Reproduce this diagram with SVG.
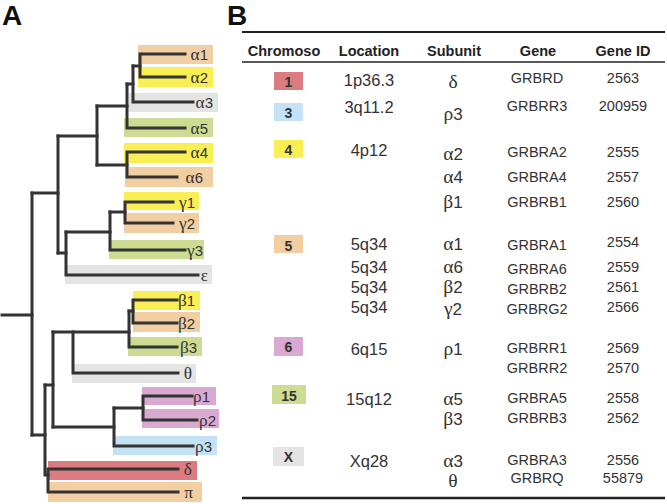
<svg xmlns="http://www.w3.org/2000/svg" width="667" height="504" viewBox="0 0 667 504">
<style>
.panel{font-family:"Liberation Sans",Arial,sans-serif;font-weight:bold;font-size:28px;fill:#111}
.br{fill:none;stroke:#333;stroke-width:3;stroke-linecap:square;stroke-linejoin:miter}
.lbl{font-family:"Liberation Sans",Arial,sans-serif;font-size:15px;fill:#333;text-anchor:end}
.gk{font-family:"Liberation Serif","Times New Roman",serif;font-size:1.15em}
.tan{fill:#F2CFA2}.yel{fill:#F9EF55}.gry{fill:#E4E4E4}.grn{fill:#CDDC92}.pnk{fill:#D9A9D2}.blu{fill:#C4E2F5}.red{fill:#DB7C80}
.hd{font-family:"Liberation Sans",Arial,sans-serif;font-weight:bold;font-size:14.5px;fill:#222;text-anchor:middle}
.rule{stroke:#222}
.chip{font-family:"Liberation Sans",Arial,sans-serif;font-weight:bold;font-size:14px;fill:#333;text-anchor:middle}
.loc{font-family:"Liberation Sans",Arial,sans-serif;font-size:16.5px;fill:#333;text-anchor:middle}
.sub{font-family:"Liberation Sans",Arial,sans-serif;font-size:17px;fill:#333;text-anchor:middle}
.gene{font-family:"Liberation Sans",Arial,sans-serif;font-size:14.5px;fill:#333;text-anchor:middle}
</style>
<text class="panel" x="2" y="25">A</text>
<text class="panel" x="227" y="25">B</text>

<g id="leaf-a1"><rect class="tan" x="138" y="45" width="75" height="19"/><text class="lbl" x="208" y="60"><tspan class="gk">α</tspan>1</text></g>
<g id="leaf-a2"><rect class="yel" x="138" y="67" width="75" height="20"/><text class="lbl" x="208" y="83"><tspan class="gk">α</tspan>2</text></g>
<g id="leaf-a3"><rect class="gry" x="129" y="93" width="89" height="19"/><text class="lbl" x="213" y="108"><tspan class="gk">α</tspan>3</text></g>
<g id="leaf-a5"><rect class="grn" x="124" y="118" width="89" height="19"/><text class="lbl" x="208" y="134"><tspan class="gk">α</tspan>5</text></g>
<g id="leaf-a4"><rect class="yel" x="124" y="143" width="89" height="20"/><text class="lbl" x="208" y="158"><tspan class="gk">α</tspan>4</text></g>
<g id="leaf-a6"><rect class="tan" x="125" y="167" width="88" height="20"/><text class="lbl" x="203" y="183"><tspan class="gk">α</tspan>6</text></g>
<g id="leaf-g1"><rect class="yel" x="124" y="192" width="75" height="18"/><text class="lbl" x="195" y="208"><tspan class="gk">γ</tspan>1</text></g>
<g id="leaf-g2"><rect class="tan" x="124" y="213" width="75" height="20"/><text class="lbl" x="195" y="229"><tspan class="gk">γ</tspan>2</text></g>
<g id="leaf-g3"><rect class="grn" x="109" y="240" width="95" height="19"/><text class="lbl" x="203" y="256"><tspan class="gk">γ</tspan>3</text></g>
<g id="leaf-e"><rect class="gry" x="65" y="265" width="147" height="19"/><text class="lbl" x="208" y="281"><tspan class="gk">ε</tspan></text></g>
<g id="leaf-b1"><rect class="yel" x="133" y="291" width="67" height="19"/><text class="lbl" x="195" y="306"><tspan class="gk">β</tspan>1</text></g>
<g id="leaf-b2"><rect class="tan" x="133" y="312" width="67" height="20"/><text class="lbl" x="195" y="329"><tspan class="gk">β</tspan>2</text></g>
<g id="leaf-b3"><rect class="grn" x="128" y="337" width="74" height="19"/><text class="lbl" x="197" y="353"><tspan class="gk">β</tspan>3</text></g>
<g id="leaf-th"><rect class="gry" x="72" y="364" width="124" height="19"/><text class="lbl" x="192" y="379"><tspan class="gk">θ</tspan></text></g>
<g id="leaf-r1"><rect class="pnk" x="142" y="387" width="74" height="18"/><text class="lbl" x="210" y="402"><tspan class="gk">ρ</tspan>1</text></g>
<g id="leaf-r2"><rect class="pnk" x="142" y="409" width="77" height="19"/><text class="lbl" x="216" y="426"><tspan class="gk">ρ</tspan>2</text></g>
<g id="leaf-r3"><rect class="blu" x="113" y="436" width="104" height="19"/><text class="lbl" x="212" y="452"><tspan class="gk">ρ</tspan>3</text></g>
<g id="leaf-d"><rect class="red" x="48" y="461" width="149" height="19"/><text class="lbl" x="192" y="475"><tspan class="gk">δ</tspan></text></g>
<g id="leaf-pi"><rect class="tan" x="48" y="482" width="154" height="20"/><text class="lbl" x="193" y="498"><tspan class="gk">π</tspan></text></g>

<g id="tree-connectors" class="br">
<path d="M185,54 H140 V77 H185"/>
<path d="M133,66 H140"/>
<path d="M133,66 V102 H193"/>
<path d="M127,84 H133"/>
<path d="M127,84 V128 H185"/>
<path d="M97,106 H127"/>
<path d="M185,152 H127 V177 H177"/>
<path d="M97,165 H127"/>
<path d="M97,106 V165"/>
<path d="M58,136 H97"/>
<path d="M173,202 H125 V223 H173"/>
<path d="M110,212 H125"/>
<path d="M110,212 V250 H185"/>
<path d="M66,232 H110"/>
<path d="M66,232 V275 H198"/>
<path d="M58,253 H66"/>
<path d="M58,136 V253"/>
<path d="M32,193 H58"/>
<path d="M177,300 H133 V323 H177"/>
<path d="M129,311 H133"/>
<path d="M129,311 V347 H177"/>
<path d="M53,332 H129"/>
<path d="M73,332 V373 H178"/>
<path d="M192,396 H143 V420 H197"/>
<path d="M114,408 H143"/>
<path d="M114,408 V446 H193"/>
<path d="M53,427 H114"/>
<path d="M53,332 V427"/>
<path d="M45,385 H53"/>
<path d="M45,385 V475 H48"/>
<path d="M178,469 H48 V492 H178"/>
<path d="M32,435 H45"/>
<path d="M32,193 V435"/>
<path d="M2,315 H32"/>
</g>

<g id="table-rules" class="rule">
<line x1="242" y1="32" x2="665" y2="32" stroke-width="2"/>
<line x1="242" y1="62" x2="665" y2="62" stroke-width="1.5"/>
<line x1="242" y1="498" x2="665" y2="498" stroke-width="2.5"/>
</g>

<g id="table-header">
<text class="hd" x="284" y="56">Chromoso</text>
<text class="hd" x="369" y="56">Location</text>
<text class="hd" x="454" y="56">Subunit</text>
<text class="hd" x="538" y="56">Gene</text>
<text class="hd" x="623" y="56">Gene ID</text>
</g>

<g id="row-chr1">
<rect class="red" x="274" y="72" width="29" height="18"/><text class="chip" x="288.5" y="87">1</text>
<text class="loc" x="369" y="86">1p36.3</text>
<text class="sub" x="453" y="88"><tspan class="gk">δ</tspan></text>
<text class="gene" x="537" y="83">GRBRD</text>
<text class="gene" x="623" y="83">2563</text>
</g>
<g id="row-chr3">
<rect class="blu" x="274" y="103" width="29" height="18"/><text class="chip" x="288.5" y="118">3</text>
<text class="loc" x="369" y="113">3q11.2</text>
<text class="sub" x="453" y="120"><tspan class="gk">ρ</tspan>3</text>
<text class="gene" x="537" y="111">GRBRR3</text>
<text class="gene" x="623" y="111">200959</text>
</g>
<g id="row-chr4">
<rect class="yel" x="274" y="140" width="29" height="18"/><text class="chip" x="288.5" y="155">4</text>
<text class="loc" x="369" y="156">4p12</text>
<text class="sub" x="453" y="160"><tspan class="gk">α</tspan>2</text>
<text class="gene" x="537" y="157">GRBRA2</text>
<text class="gene" x="623" y="157">2555</text>
<text class="sub" x="453" y="183"><tspan class="gk">α</tspan>4</text>
<text class="gene" x="537" y="182">GRBRA4</text>
<text class="gene" x="623" y="182">2557</text>
<text class="sub" x="453" y="208"><tspan class="gk">β</tspan>1</text>
<text class="gene" x="537" y="207">GRBRB1</text>
<text class="gene" x="623" y="207">2560</text>
</g>
<g id="row-chr5">
<rect class="tan" x="274" y="235" width="29" height="18"/><text class="chip" x="288.5" y="251">5</text>
<text class="loc" x="369" y="250">5q34</text>
<text class="sub" x="453" y="250"><tspan class="gk">α</tspan>1</text>
<text class="gene" x="537" y="250">GRBRA1</text>
<text class="gene" x="623" y="247">2554</text>
<text class="loc" x="369" y="273">5q34</text>
<text class="sub" x="453" y="273"><tspan class="gk">α</tspan>6</text>
<text class="gene" x="537" y="274">GRBRA6</text>
<text class="gene" x="623" y="272">2559</text>
<text class="loc" x="369" y="293">5q34</text>
<text class="sub" x="453" y="293"><tspan class="gk">β</tspan>2</text>
<text class="gene" x="537" y="294">GRBRB2</text>
<text class="gene" x="623" y="292">2561</text>
<text class="loc" x="369" y="313">5q34</text>
<text class="sub" x="453" y="315"><tspan class="gk">γ</tspan>2</text>
<text class="gene" x="537" y="314">GRBRG2</text>
<text class="gene" x="623" y="312">2566</text>
</g>
<g id="row-chr6">
<rect class="pnk" x="274" y="337" width="29" height="19"/><text class="chip" x="288.5" y="352">6</text>
<text class="loc" x="369" y="355">6q15</text>
<text class="sub" x="453" y="355"><tspan class="gk">ρ</tspan>1</text>
<text class="gene" x="537" y="353">GRBRR1</text>
<text class="gene" x="623" y="353">2569</text>
<text class="gene" x="537" y="373">GRBRR2</text>
<text class="gene" x="623" y="373">2570</text>
</g>
<g id="row-chr15">
<rect class="grn" x="272" y="385" width="34" height="19"/><text class="chip" x="289" y="401">15</text>
<text class="loc" x="369" y="405">15q12</text>
<text class="sub" x="453" y="405"><tspan class="gk">α</tspan>5</text>
<text class="gene" x="537" y="403">GRBRA5</text>
<text class="gene" x="623" y="403">2558</text>
<text class="sub" x="453" y="425"><tspan class="gk">β</tspan>3</text>
<text class="gene" x="537" y="423">GRBRB3</text>
<text class="gene" x="623" y="423">2562</text>
</g>
<g id="row-chrX">
<rect class="gry" x="273" y="447" width="31" height="19"/><text class="chip" x="288.5" y="462">X</text>
<text class="loc" x="369" y="467">Xq28</text>
<text class="sub" x="453" y="467"><tspan class="gk">α</tspan>3</text>
<text class="gene" x="537" y="465">GRBRA3</text>
<text class="gene" x="623" y="465">2556</text>
<text class="sub" x="453" y="487"><tspan class="gk">θ</tspan></text>
<text class="gene" x="537" y="483">GRBRQ</text>
<text class="gene" x="623" y="483">55879</text>
</g>
</svg>
